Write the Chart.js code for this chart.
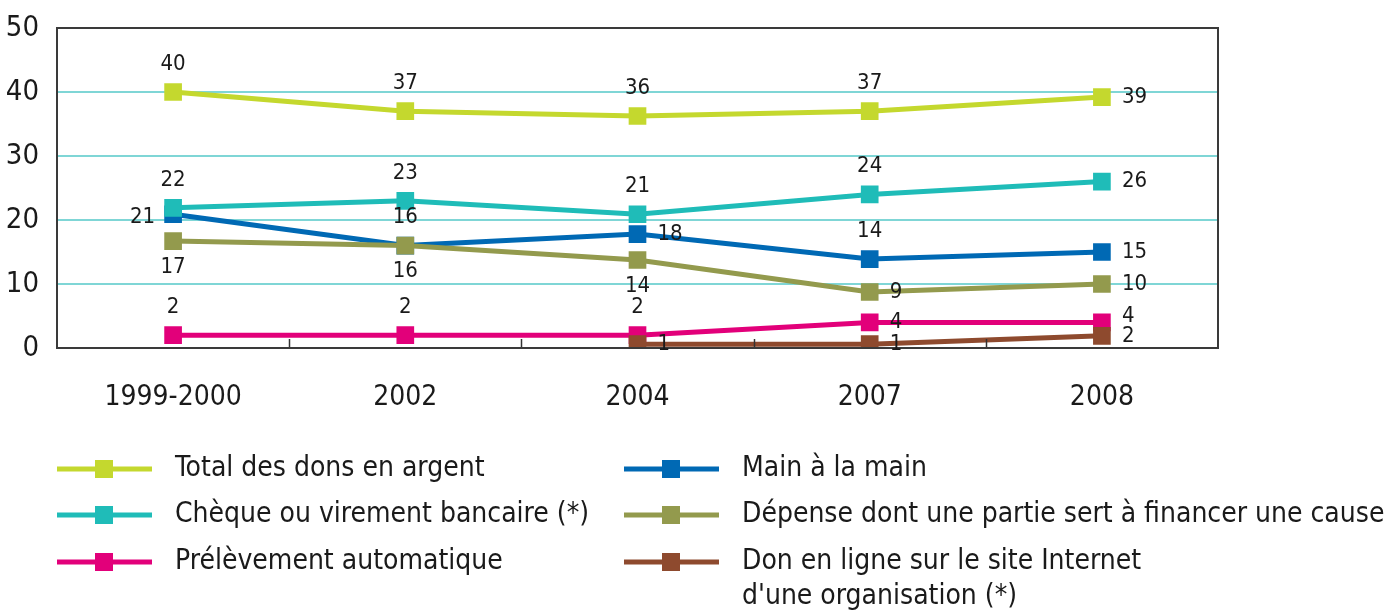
<!DOCTYPE html>
<html>
<head>
<meta charset="utf-8">
<script src="https://cdn.jsdelivr.net/npm/chart.js@4/dist/chart.umd.min.js"></script>
<style>
html,body{margin:0;padding:0;background:#fff;}
#wrap{width:1387px;height:610px;position:relative;}
</style>
</head>
<body>
<div id="wrap"><canvas id="c" width="1387" height="610"></canvas></div>
<script>
const categories = ['1999-2000', '2002', '2004', '2007', '2008'];
const yTicks = [0, 10, 20, 30, 40, 50];

const totalDons    = [40, 37, 36.25, 37, 39.2];
const chequeVir    = [21.9, 23, 20.9, 24, 26];
const mainMain     = [20.9, 16, 17.8, 13.9, 15];
const depenseCause = [16.7, 16, 13.75, 8.75, 10];
const prelevement  = [2, 2, 2, 4, 4];
const donEnLigne   = [null, null, 0.6, 0.6, 1.9];

const seriesLabels = [
  'Total des dons en argent',
  'Chèque ou virement bancaire (*)',
  'Prélèvement automatique',
  'Main à la main',
  'Dépense dont une partie sert à financer une cause',
  "Don en ligne sur le site Internet\nd'une organisation (*)"
];

// label placement per point: T=top, B=bottom, R=right, L=left, U=right & up
const labelPos = [
  ['T','T','T','T','R'],
  ['T','T','T','T','R'],
  ['T','T','T','R','U'],
  ['L','T','R','T','R'],
  ['B','B','B','R','R'],
  ['R','R','R','R','R']
];

const colors = ['#c4d82e', '#1fbcb8', '#e2007a', '#0069b4', '#939a4d', '#8e4a2e'];
const drawOrder = [0, 3, 2, 5, 4, 1];
const FONT = '"DejaVu Sans Condensed", "Liberation Sans Narrow", "Roboto", sans-serif';

const values = [totalDons, chequeVir, prelevement, mainMain, depenseCause, donEnLigne];

const datasets = values.map((v, i) => ({
  label: seriesLabels[i],
  data: v,
  borderColor: colors[i],
  backgroundColor: colors[i],
  borderWidth: 5,
  pointStyle: 'rect',
  pointRadius: 12.5,
  pointBorderWidth: 0,
  pointHoverRadius: 12.5,
  tension: 0,
  spanGaps: false,
  order: drawOrder[i]
}));

const framePlugin = {
  id: 'frame',
  afterDatasetsDraw(chart) {
    const ctx = chart.ctx, a = chart.chartArea, xs = chart.scales.x;
    ctx.save();
    ctx.strokeStyle = '#333';
    ctx.lineWidth = 1.5;
    for (let i = 0; i < categories.length - 1; i++) {
      const xm = (xs.getPixelForValue(i) + xs.getPixelForValue(i + 1)) / 2;
      ctx.beginPath();
      ctx.moveTo(Math.round(xm) + 0.5, a.bottom);
      ctx.lineTo(Math.round(xm) + 0.5, a.bottom - 9);
      ctx.stroke();
    }
    ctx.strokeStyle = '#3a3a3a';
    ctx.lineWidth = 2;
    ctx.strokeRect(a.left, a.top, a.right - a.left, a.bottom - a.top);
    ctx.restore();
  },
  afterDraw(chart) {
    const ctx = chart.ctx;
    ctx.save();
    ctx.font = '22px ' + FONT;
    ctx.fillStyle = '#1a1a1a';
    chart.data.datasets.forEach((ds, di) => {
      const meta = chart.getDatasetMeta(di);
      meta.data.forEach((pt, pi) => {
        const v = ds.data[pi];
        if (v === null || v === undefined) return;
        const txt = String(Math.round(v));
        const p = labelPos[di][pi];
        let x = pt.x, y = pt.y;
        ctx.textBaseline = 'middle';
        if (p === 'T') { ctx.textAlign = 'center'; y -= 28; }
        else if (p === 'B') { ctx.textAlign = 'center'; y += 26; }
        else if (p === 'R') { ctx.textAlign = 'left'; x += 20; }
        else if (p === 'U') { ctx.textAlign = 'left'; x += 20; y -= 6; }
        else { ctx.textAlign = 'right'; x -= 18; y += 3; }
        ctx.fillText(txt, x, y);
      });
    });
    const cols = [57, 624];
    const rows = [469, 515, 562];
    chart.data.datasets.forEach((ds, i) => {
      const x0 = cols[Math.floor(i / 3)];
      const y = rows[i % 3];
      ctx.strokeStyle = ds.borderColor;
      ctx.lineWidth = 5;
      ctx.beginPath();
      ctx.moveTo(x0, y);
      ctx.lineTo(x0 + 95, y);
      ctx.stroke();
      ctx.fillStyle = ds.borderColor;
      ctx.fillRect(x0 + 47 - 9, y - 9, 18, 18);
      ctx.fillStyle = '#1a1a1a';
      ctx.font = '28px ' + FONT;
      ctx.textAlign = 'left';
      ctx.textBaseline = 'middle';
      ds.label.split('\n').forEach((line, li) => {
        ctx.fillText(line, x0 + 118, y + li * 35);
      });
    });
    ctx.restore();
  }
};

new Chart(document.getElementById('c'), {
  type: 'line',
  data: { labels: categories, datasets },
  options: {
    responsive: false,
    animation: false,
    events: [],
    layout: { padding: { top: 28, right: 169, left: 0, bottom: 202 } },
    plugins: { legend: { display: false }, tooltip: { enabled: false } },
    scales: {
      x: {
        offset: true,
        grid: { display: false, drawTicks: false },
        border: { display: false },
        ticks: { color: '#1a1a1a', font: { family: FONT, size: 28 }, padding: 33, maxRotation: 0 },
        afterFit(s) { s.height = 60; }
      },
      y: {
        min: 0, max: 50,
        afterBuildTicks(s) { s.ticks = yTicks.map(v => ({ value: v })); },
        grid: {
          drawTicks: false,
          color: (c) => (c.tick && (c.tick.value === 0 || c.tick.value === 50)) ? 'rgba(0,0,0,0)' : '#7fd6d6',
          lineWidth: 2
        },
        border: { display: false },
        ticks: { color: '#1a1a1a', font: { family: FONT, size: 29, lineHeight: 0.4 }, padding: 18 },
        afterFit(s) { s.width = 57; }
      }
    }
  },
  plugins: [framePlugin]
});
</script>
</body>
</html>
